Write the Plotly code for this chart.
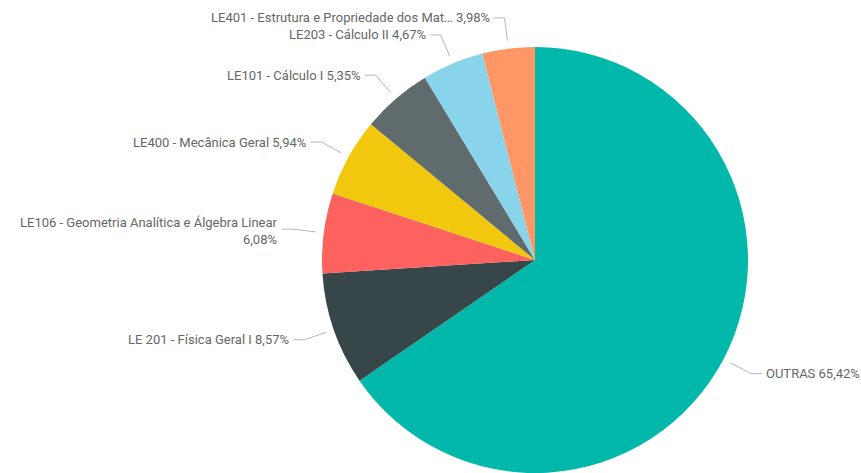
import math
import plotly.graph_objects as go

# ---- data ----
labels = [
    "OUTRAS",
    "LE 201 - Física Geral I",
    "LE106 - Geometria Analítica e Álgebra Linear",
    "LE400 - Mecânica Geral",
    "LE101 - Cálculo I",
    "LE203 - Cálculo II",
    "LE401 - Estrutura e Propriedade dos Mat…",
]
values = [65.42, 8.57, 6.08, 5.94, 5.35, 4.67, 3.98]
colors = ["#01B8AA", "#374649", "#FD625E", "#F2C80F", "#5F6B6D", "#8AD4EB", "#FE9666"]
wrap_before_value = [False, False, True, False, False, False, False]

# ---- layout geometry (pixels) ----
W, H = 861, 473
cx, cy, R = 535, 260, 213
r_in, r_elbow, seg = R + 8, R + 31, 11
FONT = "Roboto"
TXT = "#666666"
LINE = "#B8B8B8"

def px(x):
    return x / W

def py(y):
    return 1 - y / H

fig = go.Figure(go.Pie(
    labels=labels,
    values=values,
    marker=dict(colors=colors, line=dict(width=0)),
    sort=False,
    direction="clockwise",
    rotation=0,
    textinfo="none",
    hovertemplate="%{label}: %{value}%<extra></extra>",
    showlegend=False,
    domain=dict(x=[px(cx - R), px(cx + R)], y=[py(cy + R), py(cy - R)]),
))

total = sum(values)
cum = 0.0
shapes, annotations = [], []
for lab, v, wrap in zip(labels, values, wrap_before_value):
    mid = (cum + v / 2) / total
    cum += v
    t = 2 * math.pi * mid
    s, c = math.sin(t), math.cos(t)
    x0, y0 = cx + r_in * s, cy - r_in * c
    x1, y1 = cx + r_elbow * s, cy - r_elbow * c
    side = 1 if s >= 0 else -1
    x2 = x1 + side * seg
    shapes.append(dict(
        type="path", xref="paper", yref="paper",
        path=f"M {px(x0)},{py(y0)} L {px(x1)},{py(y1)} L {px(x2)},{py(y1)}",
        line=dict(color=LINE, width=1),
    ))
    pct = f"{v:.2f}".replace(".", ",") + "%"
    text = f"{lab}<br>{pct}" if wrap else f"{lab} {pct}"
    annotations.append(dict(
        x=px(x2 + side * 2), y=py(y1 + (2 if wrap else 0)), xref="paper", yref="paper",
        text=text, showarrow=False,
        xanchor="left" if side > 0 else "right", yanchor="middle",
        align="left" if side > 0 else "right",
        font=dict(family=FONT, size=13, color=TXT),
    ))

fig.update_layout(
    width=W, height=H,
    margin=dict(l=0, r=0, t=0, b=0),
    paper_bgcolor="white",
    plot_bgcolor="white",
    shapes=shapes,
    annotations=annotations,
)

fig.write_html("out.html")
